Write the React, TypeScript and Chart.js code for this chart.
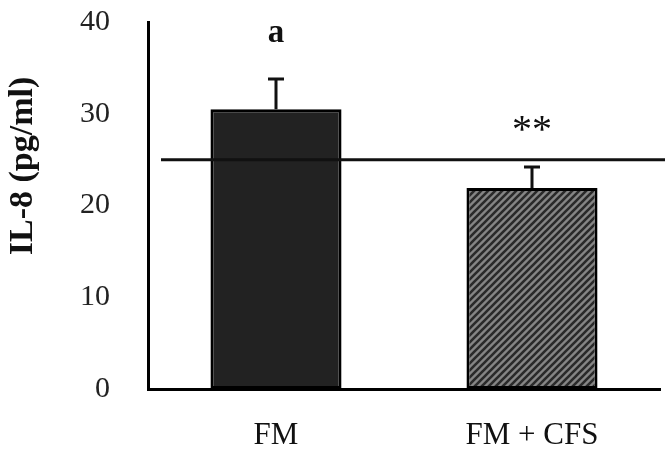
import React, { useEffect, useRef } from "react";
import { Chart, registerables } from "chart.js";

Chart.register(...registerables);

const categories = ["FM", "FM + CFS"];
const meanValues = [30.5, 21.9];
const errorValues = [3.3, 2.3];
const annotations = ["a", "**"];
const annotationValues = [37.8, 26.9];
const referenceValue = 25;
const yTicks = [0, 10, 20, 30, 40];
const yTitle = "IL-8 (pg/ml)";

const FONT = "'Liberation Serif', 'Times New Roman', serif";

function makeHatch(): CanvasPattern | string {
  const s = 7;
  const c = document.createElement("canvas");
  c.width = s;
  c.height = s;
  const g = c.getContext("2d");
  if (!g) return "#777";
  g.fillStyle = "#858585";
  g.fillRect(0, 0, s, s);
  g.strokeStyle = "#2a2a2a";
  g.lineWidth = 2.6;
  g.beginPath();
  g.moveTo(-1, s + 1);
  g.lineTo(s + 1, -1);
  g.moveTo(-1, 1);
  g.lineTo(1, -1);
  g.moveTo(s - 1, s + 1);
  g.lineTo(s + 1, s - 1);
  g.stroke();
  const p = g.createPattern(c, "repeat");
  return p || "#777";
}

const extrasPlugin = {
  id: "extras",
  afterDatasetsDraw(chart: any) {
    const ctx = chart.ctx;
    const y = chart.scales.y;
    const area = chart.chartArea;
    const meta = chart.getDatasetMeta(0);
    ctx.save();
    // error bars
    ctx.strokeStyle = "#111";
    ctx.lineWidth = 3;
    meta.data.forEach((bar: any, i: number) => {
      const x = bar.x;
      const top = y.getPixelForValue(meanValues[i]);
      const errTop = y.getPixelForValue(meanValues[i] + errorValues[i]);
      ctx.beginPath();
      ctx.moveTo(x, top);
      ctx.lineTo(x, errTop);
      ctx.moveTo(x - 8, errTop);
      ctx.lineTo(x + 8, errTop);
      ctx.stroke();
    });
    // reference line
    const ry = y.getPixelForValue(referenceValue);
    ctx.beginPath();
    ctx.lineWidth = 3;
    ctx.moveTo(area.left + 13, ry);
    ctx.lineTo(area.right + 5, ry);
    ctx.stroke();
    // annotations
    ctx.fillStyle = "#111";
    ctx.textAlign = "center";
    ctx.textBaseline = "alphabetic";
    meta.data.forEach((bar: any, i: number) => {
      ctx.font = i === 0 ? `bold 33px ${FONT}` : `40px ${FONT}`;
      ctx.fillText(annotations[i], bar.x, y.getPixelForValue(annotationValues[i]));
    });
    // y title
    ctx.save();
    ctx.translate(23, 166);
    ctx.rotate(-Math.PI / 2);
    ctx.textBaseline = "middle";
    ctx.font = `bold 34px ${FONT}`;
    ctx.fillText(yTitle, 0, 0);
    ctx.restore();
    ctx.restore();
  },
};

export default function App() {
  const ref = useRef<HTMLCanvasElement>(null);
  useEffect(() => {
    document.body.style.margin = "0";
    if (!ref.current) return;
    const hatch = makeHatch();
    const chart = new Chart(ref.current, {
      type: "bar",
      data: {
        labels: categories,
        datasets: [
          {
            data: meanValues,
            backgroundColor: ["#222222", hatch as any],
            borderColor: "#000",
            borderWidth: 3,
            borderSkipped: false,
            barPercentage: 0.512,
            categoryPercentage: 1,
          },
        ],
      },
      options: {
        responsive: false,
        animation: false,
        devicePixelRatio: 1,
        layout: { padding: { top: 22, right: 10, left: 0, bottom: 0 } },
        plugins: { legend: { display: false }, tooltip: { enabled: false } },
        scales: {
          x: {
            grid: { display: false, drawTicks: false },
            border: { display: true, color: "#000", width: 3 },
            ticks: { font: { family: FONT, size: 31 }, color: "#111", padding: 28 },
            afterFit: (s: any) => {
              s.height = 63;
              s.paddingLeft = 0;
              s.paddingRight = 0;
            },
          },
          y: {
            min: 0,
            max: 40,
            grid: { display: false, drawTicks: false },
            border: { display: true, color: "#000", width: 3 },
            afterBuildTicks: (s: any) => {
              s.ticks = yTicks.map((v) => ({ value: v }));
            },
            ticks: { font: { family: FONT, size: 30 }, color: "#222", padding: 38 },
            afterFit: (s: any) => {
              s.width = 148;
              s.paddingTop = 0;
              s.paddingBottom = 0;
            },
          },
        },
      },
      plugins: [extrasPlugin],
    });
    return () => chart.destroy();
  }, []);
  return (
    <div style={{ position: "fixed", left: 0, top: 0, width: 670, height: 452, background: "#fff" }}>
      <canvas ref={ref} width={670} height={452} />
    </div>
  );
}
